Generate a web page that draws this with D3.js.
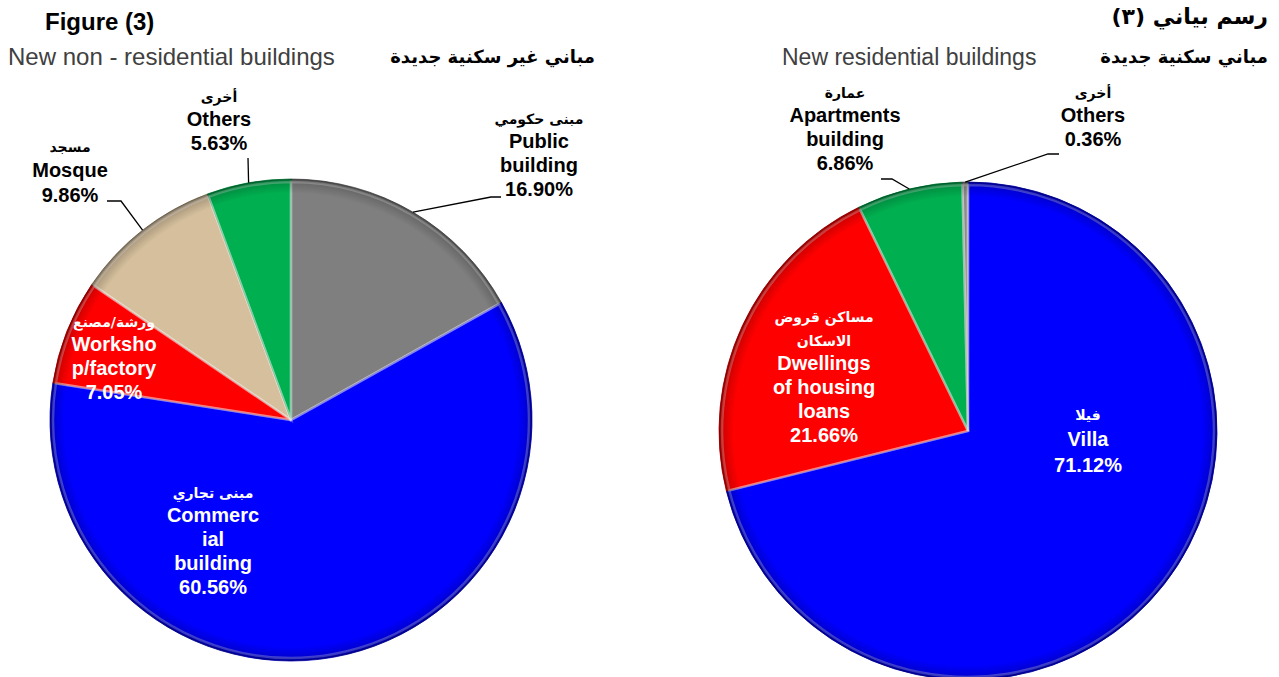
<!DOCTYPE html>
<html><head><meta charset="utf-8">
<script src="https://cdn.jsdelivr.net/npm/d3@7"></script>
<style>
body{margin:0;background:#fff;}
text{font-family:"Liberation Sans",Arial,sans-serif;}
</style></head><body>
<svg id="c" width="1279" height="677"></svg>
<script>
// ---------- data ----------
const leftCategories = ["Public building","Commercial building","Workshop/factory","Mosque","Others"];
const leftArabic     = ["مبنى حكومي","مبنى تجاري","ورشة/مصنع","مسجد","أخرى"];
const leftEnglish    = [["Public","building"],["Commerc","ial","building"],["Worksho","p/factory"],["Mosque"],["Others"]];
const leftValues     = [16.90, 60.56, 7.05, 9.86, 5.63];

const rightCategories = ["Villa","Dwellings of housing loans","Apartments building","Others"];
const rightArabic     = [["فيلا"],["مساكن قروض","الاسكان"],["عمارة"],["أخرى"]];
const rightEnglish    = [["Villa"],["Dwellings","of housing","loans"],["Apartments","building"],["Others"]];
const rightValues     = [71.12, 21.66, 6.86, 0.36];

// ---------- layout / style ----------
const leftColors  = ["#7F7F7F","#0000FF","#FF0000","#D5BF9C","#00B050"];
const rightColors = ["#0000FF","#FF0000","#00B050","#8C8C8C"];

const svg = d3.select("#c");
const defs = svg.append("defs");

const rg = defs.append("radialGradient").attr("id","edge").attr("cx","50%").attr("cy","50%").attr("r","50%");
rg.append("stop").attr("offset","0.94").attr("stop-color","#000").attr("stop-opacity",0);
rg.append("stop").attr("offset","0.985").attr("stop-color","#000").attr("stop-opacity",0.18);
rg.append("stop").attr("offset","1").attr("stop-color","#000").attr("stop-opacity",0.45);

function drawPie(cfg){
  const g = svg.append("g").attr("transform",`translate(${cfg.cx},${cfg.cy})`);
  const pie = d3.pie().sort(null).value(d=>d)(cfg.values);
  const arc = d3.arc().innerRadius(0).outerRadius(cfg.r);
  g.selectAll("path.s").data(pie).join("path").attr("class","s")
    .attr("d",arc).attr("fill",(d,i)=>cfg.colors[i])
    .attr("stroke",(d,i)=>d3.color(cfg.colors[i]).darker(0.9)).attr("stroke-width",0.8)
    .attr("stroke-linejoin","round");
  g.selectAll("path.h").data(pie).join("path").attr("class","h")
    .attr("d",d3.arc().innerRadius(0).outerRadius(cfg.r-3))
    .attr("fill","none").attr("stroke","#fff").attr("stroke-opacity",0.3).attr("stroke-width",2.5);
  g.append("circle").attr("r",cfg.r).attr("fill","url(#edge)").attr("pointer-events","none");

  const mid = d => (d.startAngle+d.endAngle)/2;
  pie.forEach((d,i)=>{
    const L = cfg.labels[i];
    const lines = [];
    L.ar.forEach(t=>lines.push({t,ar:true}));
    L.en.forEach(t=>lines.push({t,ar:false}));
    lines.push({t:cfg.values[i].toFixed(2)+"%",ar:false});
    const lh = L.lh || cfg.lh;
    const tx = g.append("text").attr("text-anchor","middle")
      .attr("fill",L.inside?"#fff":"#000").attr("font-weight","bold");
    lines.forEach((ln,k)=>{
      tx.append("tspan").attr("x",L.x).attr("y",L.y + k*lh)
        .attr("font-size",ln.ar?cfg.arSize:cfg.fs)
        .attr("font-family",ln.ar?"'DejaVu Sans','Noto Sans',sans-serif":"'Liberation Sans',Arial,sans-serif")
        .attr("direction",ln.ar?"rtl":"ltr")
        .text(ln.t);
    });
    if(L.leader){
      const a = mid(d);
      const ex = cfg.r*Math.sin(a), ey = -cfg.r*Math.cos(a);
      const pts = [[ex,ey]].concat(L.leader);
      g.append("path").attr("d",d3.line()(pts)).attr("fill","none")
        .attr("stroke","#000").attr("stroke-width",1.3);
    }
  });
}

drawPie({
  cx:291, cy:420, r:241, values:leftValues, colors:leftColors, fs:20, arSize:14, lh:24,
  labels:[
    {ar:[leftArabic[0]], en:leftEnglish[0], x:248, y:-296, leader:[[200,-223],[210,-223]]},
    {ar:[leftArabic[1]], en:leftEnglish[1], x:-78, y:78, inside:true},
    {ar:[leftArabic[2]], en:leftEnglish[2], x:-177, y:-93, inside:true},
    {ar:[leftArabic[3]], en:leftEnglish[3], x:-221, y:-268, lh:25, leader:[[-170,-219],[-184,-219]]},
    {ar:[leftArabic[4]], en:leftEnglish[4], x:-72, y:-318, leader:[[-43,-262]]}
  ]
});
drawPie({
  cx:968, cy:431, r:249, values:rightValues, colors:rightColors, fs:20, arSize:14, lh:24,
  labels:[
    {ar:rightArabic[0], en:rightEnglish[0], x:120, y:-11, lh:26, inside:true},
    {ar:rightArabic[1], en:rightEnglish[1], x:-144, y:-109, inside:true},
    {ar:rightArabic[2], en:rightEnglish[2], x:-123, y:-333, leader:[[-76,-252],[-87,-252]]},
    {ar:rightArabic[3], en:rightEnglish[3], x:125, y:-333, leader:[[80,-277],[91,-277]]}
  ]
});

// titles
svg.append("text").attr("x",45).attr("y",30).attr("font-size",24).attr("font-weight","bold").text("Figure (3)");
svg.append("text").attr("x",8).attr("y",65).attr("font-size",24).attr("fill","#404040").text("New non - residential buildings");
svg.append("text").attr("x",595).attr("y",63).attr("font-size",18).attr("font-weight","bold")
  .attr("text-anchor","start").attr("direction","rtl").style("font-family","'DejaVu Sans',sans-serif").text("مباني غير سكنية جديدة");
svg.append("text").attr("x",1268).attr("y",24).attr("font-size",22).attr("font-weight","bold")
  .attr("text-anchor","start").attr("direction","rtl").style("font-family","'DejaVu Sans',sans-serif").text("رسم بياني (٣)");
svg.append("text").attr("x",1268).attr("y",63).attr("font-size",18).attr("font-weight","bold")
  .attr("text-anchor","start").attr("direction","rtl").style("font-family","'DejaVu Sans',sans-serif").text("مباني سكنية جديدة");
svg.append("text").attr("x",782).attr("y",65).attr("font-size",23).attr("fill","#404040").text("New residential buildings");
</script></body></html>
